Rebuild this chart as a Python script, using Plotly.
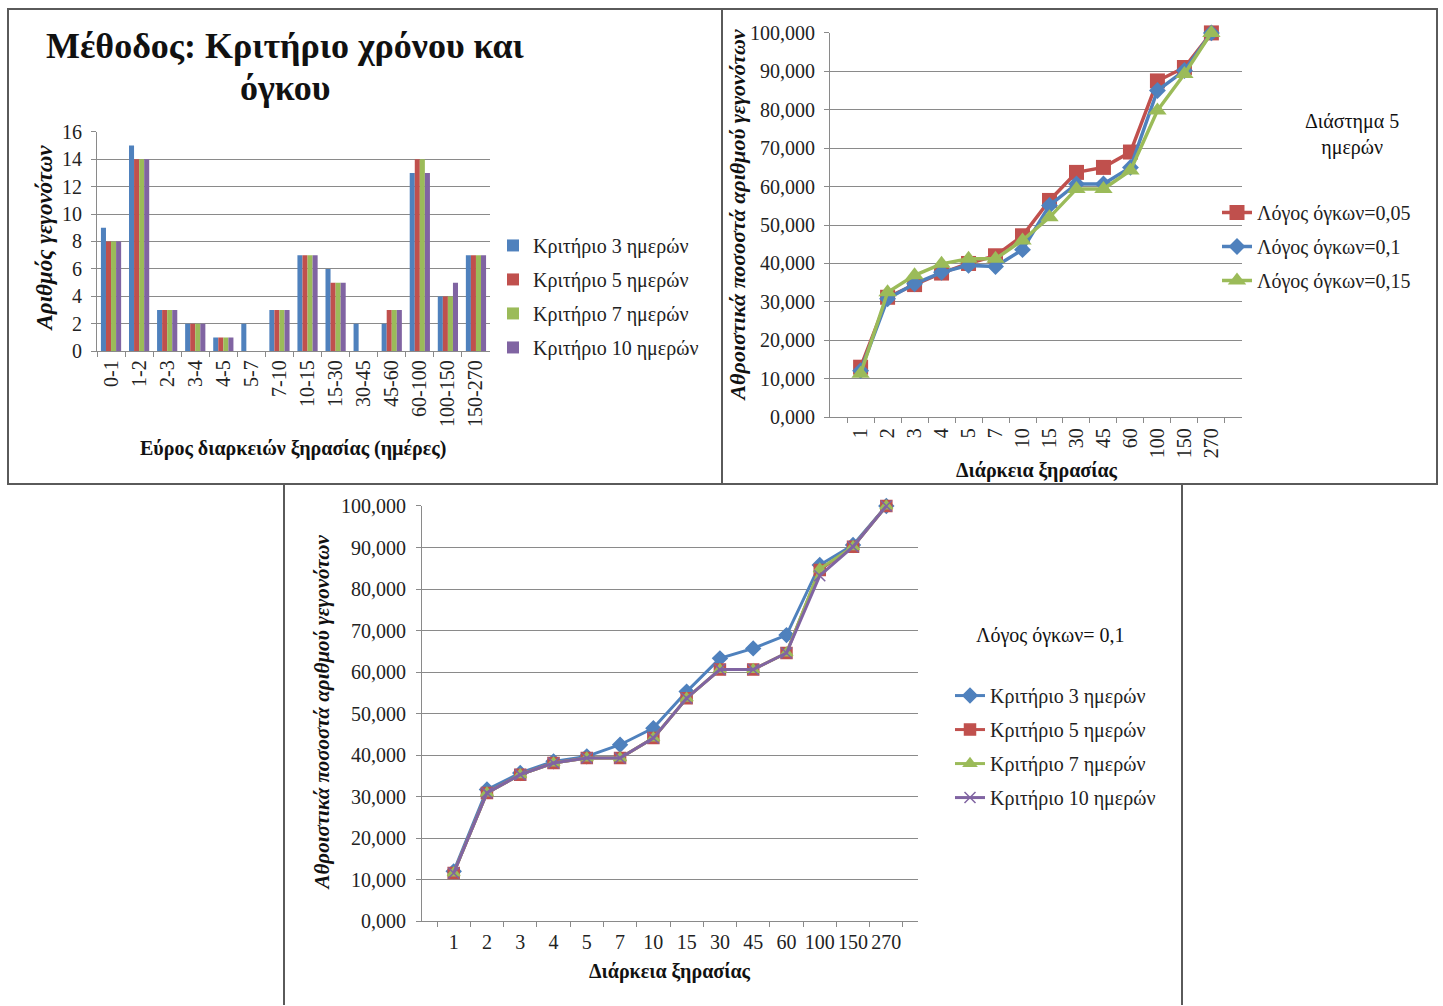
import plotly.graph_objects as go

W, H = 1443, 1006

# ---------------- data ----------------
bar_cats = ["0-1", "1-2", "2-3", "3-4", "4-5", "5-7", "7-10", "10-15", "15-30",
            "30-45", "45-60", "60-100", "100-150", "150-270"]
bar_names = ["Κριτήριο 3 ημερών", "Κριτήριο 5 ημερών", "Κριτήριο 7 ημερών", "Κριτήριο 10 ημερών"]
bar_3d = [9, 15, 3, 2, 1, 2, 3, 7, 6, 2, 2, 13, 4, 7]
bar_5d = [8, 14, 3, 2, 1, 0, 3, 7, 5, 0, 3, 14, 4, 7]
bar_7d = [8, 14, 3, 2, 1, 0, 3, 7, 5, 0, 3, 14, 4, 7]
bar_10d = [8, 14, 3, 2, 1, 0, 3, 7, 5, 0, 3, 13, 5, 7]

dur_cats = ["1", "2", "3", "4", "5", "7", "10", "15", "30", "45", "60", "100", "150", "270"]

tr_names = ["Λόγος όγκων=0,05", "Λόγος όγκων=0,1", "Λόγος όγκων=0,15"]
ratio_005 = [13.0, 31.2, 34.5, 37.5, 40.0, 42.0, 47.2, 56.4, 63.7, 65.0, 69.0, 87.5, 91.0, 100.0]
ratio_010 = [12.1, 30.8, 34.7, 37.7, 39.5, 39.2, 43.6, 55.1, 60.7, 60.7, 65.0, 85.0, 90.2, 100.0]
ratio_015 = [11.3, 32.5, 36.9, 39.9, 41.2, 41.2, 46.0, 52.0, 59.4, 59.4, 64.2, 79.8, 89.3, 100.0]

bt_names = ["Κριτήριο 3 ημερών", "Κριτήριο 5 ημερών", "Κριτήριο 7 ημερών", "Κριτήριο 10 ημερών"]
crit_3d = [12.0, 31.7, 35.7, 38.5, 39.7, 42.5, 46.5, 55.3, 63.3, 65.7, 68.9, 85.8, 90.6, 100.0]
crit_5d = [11.6, 30.9, 35.3, 38.1, 39.3, 39.3, 44.1, 53.7, 60.6, 60.6, 64.6, 84.6, 90.2, 100.0]
crit_7d = [11.6, 30.9, 35.3, 38.1, 39.3, 39.3, 44.1, 53.7, 60.6, 60.6, 64.6, 84.8, 90.2, 100.0]
crit_10d = [11.6, 30.9, 35.3, 38.1, 39.3, 39.3, 44.1, 53.7, 60.6, 60.6, 64.6, 83.2, 90.2, 100.0]

bar_ticks = [0, 2, 4, 6, 8, 10, 12, 14, 16]
pct_ticks = [0, 10, 20, 30, 40, 50, 60, 70, 80, 90, 100]
pct_ticktext = ["0,000", "10,000", "20,000", "30,000", "40,000", "50,000",
                "60,000", "70,000", "80,000", "90,000", "100,000"]

# ---------------- styles ----------------
BLUE, RED, GREEN, PURPLE = "#4F81BD", "#C0504D", "#9BBB59", "#8064A2"
FONT = "Liberation Serif"
GRID = "#8a8a8a"
TXT = "#222222"
VS = 0.98  # vertical compensation for the observed rendering


def px(x):
    return x / W


def Y(y):
    return 503 + (y - 503) / VS


def py(y):
    return 1 - Y(y) / H


fig = go.Figure()

# bars
for name, vals, col in zip(bar_names, [bar_3d, bar_5d, bar_7d, bar_10d], [BLUE, RED, GREEN, PURPLE]):
    fig.add_trace(go.Bar(x=bar_cats, y=vals, name=name, marker_color=col,
                         marker_line_width=0, xaxis="x", yaxis="y",
                         legend="legend", legendgroup="b" + name))

# top right lines
tr_styles = [(RED, "square", 15), (BLUE, "diamond", 13), (GREEN, "triangle-up", 16)]
for name, vals, (col, sym, sz) in zip(tr_names, [ratio_005, ratio_010, ratio_015], tr_styles):
    fig.add_trace(go.Scatter(x=dur_cats, y=vals, name=name, mode="lines+markers",
                             line=dict(color=col, width=3.5),
                             marker=dict(symbol=sym, size=sz, color=col),
                             xaxis="x2", yaxis="y2", legend="legend2",
                             legendgroup="t" + name, cliponaxis=False))

# bottom lines
bt_styles = [(BLUE, "diamond", 11), (RED, "square", 11), (GREEN, "triangle-up", 11), (PURPLE, "x-thin-open", 11)]
for name, vals, (col, sym, sz) in zip(bt_names, [crit_3d, crit_5d, crit_7d, crit_10d], bt_styles):
    fig.add_trace(go.Scatter(x=dur_cats, y=vals, name=name, mode="lines+markers",
                             line=dict(color=col, width=3),
                             marker=dict(symbol=sym, size=sz, color=col, line=dict(color=col, width=1.5)),
                             xaxis="x3", yaxis="y3", legend="legend3",
                             legendgroup="c" + name, cliponaxis=False))

axis_common = dict(showline=True, linecolor=GRID, linewidth=1, ticks="outside",
                   tickcolor=GRID, ticklen=5, tickfont=dict(family=FONT, size=20, color=TXT),
                   zeroline=False)

fig.update_layout(
    width=W, height=H, margin=dict(l=0, r=0, t=0, b=0),
    paper_bgcolor="white", plot_bgcolor="white",
    barmode="group", bargap=0.28, bargroupgap=0,
    font=dict(family=FONT, color=TXT),
    xaxis=dict(domain=[px(97), px(490)], anchor="y", type="category", tickson="boundaries",
               tickangle=-90, showgrid=False, **axis_common),
    yaxis=dict(domain=[py(351), py(131)], anchor="x", range=[0, 16], tickvals=bar_ticks,
               showgrid=True, gridcolor=GRID, gridwidth=1, ticklabelstandoff=5, **axis_common),
    xaxis2=dict(domain=[px(830), px(1242)], anchor="y2", type="category", tickson="boundaries",
                tickangle=-90, showgrid=False, ticklabelstandoff=2, **axis_common),
    yaxis2=dict(domain=[py(417), py(32)], anchor="x2", range=[0, 100], tickvals=pct_ticks,
                ticktext=pct_ticktext, showgrid=True, gridcolor=GRID, gridwidth=1,
                ticklabelstandoff=5, **axis_common),
    xaxis3=dict(domain=[px(422), px(918)], anchor="y3", type="category", tickson="boundaries",
                tickangle=0, showgrid=False, ticklabelstandoff=3, **axis_common),
    yaxis3=dict(domain=[py(922), py(506)], anchor="x3", range=[0, 100], tickvals=pct_ticks,
                ticktext=pct_ticktext, showgrid=True, gridcolor=GRID, gridwidth=1,
                ticklabelstandoff=6, **axis_common),
    legend=dict(x=px(493), y=1 - (Y(246) - 21) / H, xanchor="left", yanchor="top",
                font=dict(family=FONT, size=20, color=TXT), tracegroupgap=5,
                bgcolor="rgba(0,0,0,0)"),
    legend2=dict(x=px(1217), y=1 - (Y(212) - 20) / H, xanchor="left", yanchor="top",
                 font=dict(family=FONT, size=20, color=TXT), tracegroupgap=5,
                 bgcolor="rgba(0,0,0,0)"),
    legend3=dict(x=px(950), y=1 - (Y(696) - 20) / H, xanchor="left", yanchor="top",
                 font=dict(family=FONT, size=20, color=TXT), tracegroupgap=5,
                 bgcolor="rgba(0,0,0,0)"),
    showlegend=True,
)

ann = []


def add_text(text, x, y, size, bold=False, italic=False, angle=0):
    t = text
    if bold:
        t = "<b>" + t + "</b>"
    if italic:
        t = "<i>" + t + "</i>"
    ann.append(dict(text=t, x=px(x), y=py(y), xref="paper", yref="paper", showarrow=False,
                    xanchor="center", yanchor="middle", textangle=angle,
                    font=dict(family=FONT, size=size, color="#111111")))


add_text("Μέθοδος: Κριτήριο χρόνου και", 285, 45, 36, bold=True)
add_text("όγκου", 285, 87, 36, bold=True)
add_text("Εύρος διαρκειών ξηρασίας (ημέρες)", 293, 448, 20, bold=True)
add_text("Αριθμός γεγονότων", 45, 238, 23, bold=True, italic=True, angle=-90)
add_text("Διάρκεια ξηρασίας", 1037, 470, 20, bold=True)
add_text("Αθροιστικά ποσοστά αριθμού γεγονότων", 738, 215, 22, bold=True, italic=True, angle=-90)
add_text("Διάστημα 5<br>ημερών", 1352, 134, 20)
add_text("Διάρκεια ξηρασίας", 670, 972, 20, bold=True)
add_text("Αθροιστικά ποσοστά αριθμού γεγονότων", 322, 713, 21, bold=True, italic=True, angle=-90)
add_text("Λόγος όγκων= 0,1", 1050, 636, 20)
fig.update_layout(annotations=ann)

BORDER = "#5a5a5a"
shapes = [
    dict(type="rect", xref="paper", yref="paper", x0=px(8), x1=px(722), y0=py(484), y1=py(8),
         line=dict(color=BORDER, width=2)),
    dict(type="rect", xref="paper", yref="paper", x0=px(722), x1=px(1437), y0=py(484), y1=py(8),
         line=dict(color=BORDER, width=2)),
    dict(type="line", xref="paper", yref="paper", x0=px(284), x1=px(284), y0=py(484), y1=py(1006),
         line=dict(color=BORDER, width=2)),
    dict(type="line", xref="paper", yref="paper", x0=px(1182), x1=px(1182), y0=py(484), y1=py(1006),
         line=dict(color=BORDER, width=2)),
]
fig.update_layout(shapes=shapes)

fig.write_html("out.html")
